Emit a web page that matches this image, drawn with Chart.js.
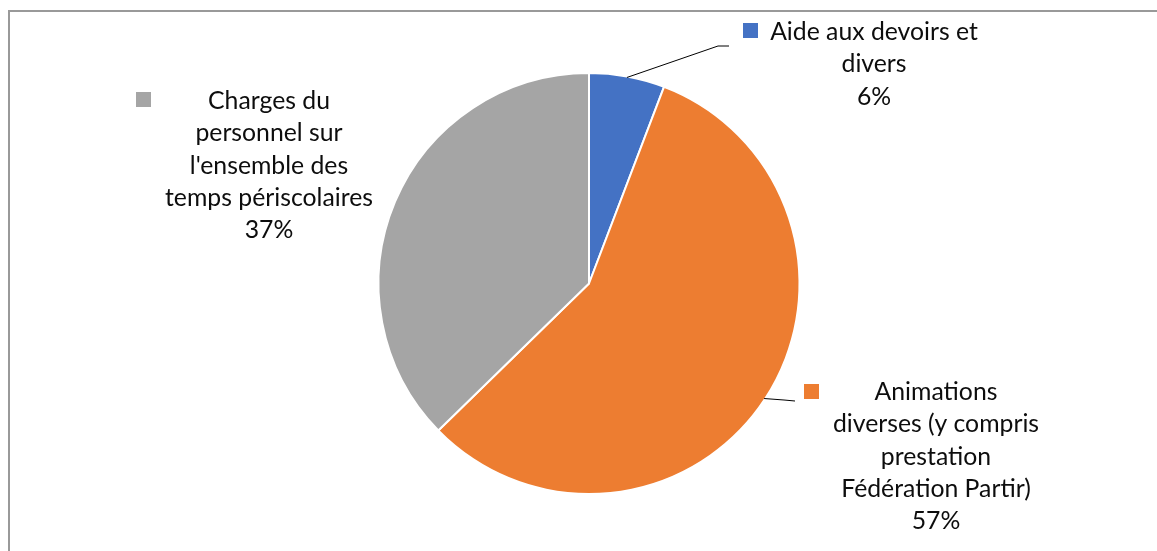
<!DOCTYPE html>
<html lang="fr">
  <head>
    <meta charset="UTF-8" />
    <script src="https://cdn.jsdelivr.net/npm/chart.js@4.4.0/dist/chart.umd.min.js"></script>
    <title>Répartition des dépenses périscolaires</title>
    <style>
      body {
        margin: 0;
        padding: 0;
        background: #fff;
      }

      .container {
        position: relative;
        width: 1157px;
        height: 551px;
      }
    </style>
  </head>
  <body>
    <div class="container">
      <canvas id="pieChart"></canvas>
    </div>
    <script>
      const categories = [
        'Aide aux devoirs et divers',
        'Animations diverses (y compris prestation Fédération Partir)',
        "Charges du personnel sur l'ensemble des temps périscolaires",
      ]
      const shares = [5.8, 56.9, 37.3]
      const colors = ['#4472C4', '#ED7D31', '#A5A5A5']
      const labelLines = [
        ['Aide aux devoirs et', 'divers'],
        ['Animations', 'diverses (y compris', 'prestation', 'Fédération Partir)'],
        ['Charges du', 'personnel sur', "l'ensemble des", 'temps périscolaires'],
      ]

      // where each data label sits (text center x, first baseline, legend key, leader elbow)
      const labelLayout = [
        { x: 874, y: 40, key: [743, 23], leader: [[718, 46], [729, 46]] },
        { x: 936, y: 400, key: [804, 384], leader: [[784, 400], [795, 401]] },
        { x: 269, y: 109, key: [136, 92], leader: null },
      ]

      const family = 'Lato, "Open Sans", sans-serif'

      const pieLabels = {
        id: 'pieLabels',
        beforeDraw(chart) {
          const ctx = chart.ctx
          ctx.save()
          ctx.fillStyle = '#999999'
          ctx.fillRect(8, 10, 1149, 2)
          ctx.fillRect(8, 10, 2, 541)
          ctx.restore()
        },
        afterDraw(chart) {
          const ctx = chart.ctx
          const meta = chart.getDatasetMeta(0)
          const values = chart.data.datasets[0].data
          const total = values.reduce((a, b) => a + b, 0)

          ctx.save()
          // fit the font width to the reference text
          ctx.font = '100px ' + family
          const w = ctx.measureText('temps périscolaires').width
          const size = (100 * 208) / w
          ctx.font = size.toFixed(2) + 'px ' + family
          ctx.textAlign = 'center'
          ctx.textBaseline = 'alphabetic'

          meta.data.forEach((arc, i) => {
            const lay = labelLayout[i]
            const lines = labelLines[i].concat(
              Math.round((values[i] / total) * 100) + '%'
            )

            if (lay.leader) {
              const p = arc.getProps(['x', 'y', 'startAngle', 'endAngle', 'outerRadius'], true)
              const mid = (p.startAngle + p.endAngle) / 2
              const r = p.outerRadius - 1
              ctx.beginPath()
              ctx.strokeStyle = '#000000'
              ctx.lineWidth = 1
              ctx.moveTo(p.x + Math.cos(mid) * r, p.y + Math.sin(mid) * r)
              lay.leader.forEach(([lx, ly]) => ctx.lineTo(lx, ly))
              ctx.stroke()
            }

            ctx.fillStyle = colors[i]
            ctx.fillRect(lay.key[0], lay.key[1], 15, 15)

            ctx.fillStyle = '#0d0d0d'
            lines.forEach((line, j) => {
              ctx.fillText(line, lay.x, lay.y + j * 32.3)
            })
          })
          ctx.restore()
        },
      }

      new Chart(document.getElementById('pieChart'), {
        type: 'pie',
        data: {
          labels: categories,
          datasets: [
            {
              data: shares,
              backgroundColor: colors,
              borderColor: '#ffffff',
              borderWidth: 2,
              hoverOffset: 0,
            },
          ],
        },
        options: {
          responsive: true,
          maintainAspectRatio: false,
          animation: false,
          layout: {
            padding: { left: 377, right: 356, top: 72, bottom: 56 },
          },
          plugins: {
            legend: { display: false },
            tooltip: { enabled: false },
          },
        },
        plugins: [pieLabels],
      })
    </script>
  </body>
</html>
